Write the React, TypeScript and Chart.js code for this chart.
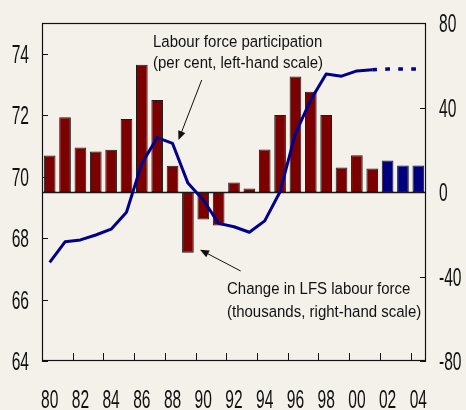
import React, { useEffect, useRef } from 'react';
import { Chart, registerables } from 'chart.js';

Chart.register(...registerables);

// ---- data ----
const years = ['80','81','82','83','84','85','86','87','88','89','90','91','92','93','94','95','96','97','98','99','00','01','02','03','04'];
// Change in LFS labour force (thousands, right-hand scale)
const lfsChange = [17.3, 35.4, 21.1, 19.2, 20.0, 34.6, 60.2, 43.6, 12.4, -28.8, -13.0, -15.9, 4.5, 1.7, 20.1, 36.4, 54.7, 47.4, 36.4, 11.6, 17.4, 11.1, 14.9, 12.5, 12.5];
// number of actual (non-projected) years
const actualYears = 22;
// Labour force participation (per cent, left-hand scale)
const participation = [67.21, 67.88, 67.94, 68.10, 68.29, 68.84, 70.43, 71.27, 71.08, 69.79, 69.24, 68.48, 68.37, 68.19, 68.56, 69.51, 71.41, 72.50, 73.34, 73.27, 73.44, 73.48, null, null, null];
const participationProjection = [null, null, null, null, null, null, null, null, null, null, null, null, null, null, null, null, null, null, null, null, null, 73.48, 73.50, 73.50, 73.50];
const leftTicks = [64, 66, 68, 70, 72, 74];
const rightTicks = [-80, -40, 0, 40, 80];
const xLabelEvery = 2;

const BG = '#f3f1ea';
const MAROON = '#7d0000';
const NAVY = '#00007f';
const LINE = '#00008b';
const INK = '#111111';

function drawCondensed(ctx: CanvasRenderingContext2D, text: string, x: number, cy: number, align: CanvasTextAlign) {
  const size = 26;
  ctx.save();
  ctx.translate(x, cy + size * 0.358);
  ctx.scale(0.6, 1);
  ctx.font = `${size}px "Liberation Sans", Arial, sans-serif`;
  ctx.fillStyle = INK;
  ctx.textAlign = align;
  ctx.textBaseline = 'alphabetic';
  ctx.fillText(text, 0, 0);
  ctx.restore();
}

function drawText(ctx: CanvasRenderingContext2D, text: string, x: number, baseline: number) {
  ctx.save();
  ctx.translate(x, baseline);
  ctx.scale(1, 1.1);
  ctx.font = '15px "Liberation Sans", Arial, sans-serif';
  ctx.fillStyle = INK;
  ctx.textAlign = 'left';
  ctx.textBaseline = 'alphabetic';
  ctx.fillText(text, 0, 0);
  ctx.restore();
}

function drawArrow(ctx: CanvasRenderingContext2D, x1: number, y1: number, x2: number, y2: number) {
  const ang = Math.atan2(y2 - y1, x2 - x1);
  const len = 9, hw = 3.8;
  ctx.save();
  ctx.strokeStyle = INK;
  ctx.fillStyle = INK;
  ctx.lineWidth = 1;
  ctx.beginPath();
  ctx.moveTo(x1, y1);
  ctx.lineTo(x2 - Math.cos(ang) * len * 0.8, y2 - Math.sin(ang) * len * 0.8);
  ctx.stroke();
  ctx.beginPath();
  ctx.moveTo(x2, y2);
  ctx.lineTo(x2 - Math.cos(ang) * len - Math.sin(ang) * hw, y2 - Math.sin(ang) * len + Math.cos(ang) * hw);
  ctx.lineTo(x2 - Math.cos(ang) * len + Math.sin(ang) * hw, y2 - Math.sin(ang) * len - Math.cos(ang) * hw);
  ctx.closePath();
  ctx.fill();
  ctx.restore();
}

const decorPlugin = {
  id: 'decor',
  afterDatasetDraw(chart: any, args: any) {
    if (args.index !== 2) return;
    const { ctx, chartArea } = chart;
    const y0 = Math.round(chart.scales.yR.getPixelForValue(0)) + 0.5;
    ctx.save();
    ctx.strokeStyle = '#1a1a1a';
    ctx.lineWidth = 1.3;
    ctx.beginPath();
    ctx.moveTo(chartArea.left, y0);
    ctx.lineTo(chartArea.right, y0);
    ctx.stroke();
    ctx.restore();
  },
  afterDraw(chart: any) {
    const { ctx, chartArea } = chart;
    const { left, right, top, bottom } = chartArea;
    const x = chart.scales.x;
    const yL = chart.scales.yL;
    const yR = chart.scales.yR;
    ctx.save();
    ctx.strokeStyle = INK;
    ctx.lineWidth = 1.2;
    ctx.strokeRect(left + 0.5, top + 0.5, right - left - 1, bottom - top - 1);
    ctx.lineWidth = 1;
    ctx.beginPath();
    leftTicks.forEach((v) => {
      const y = Math.round(yL.getPixelForValue(v)) + 0.5;
      ctx.moveTo(left, y);
      ctx.lineTo(left + 6, y);
    });
    rightTicks.forEach((v) => {
      const y = Math.round(yR.getPixelForValue(v)) + 0.5;
      ctx.moveTo(right, y);
      ctx.lineTo(right - 6, y);
    });
    for (let i = xLabelEvery; i < years.length; i += xLabelEvery) {
      const xp = Math.round((x.getPixelForValue(i - 1) + x.getPixelForValue(i)) / 2) + 0.5;
      ctx.moveTo(xp, bottom);
      ctx.lineTo(xp, bottom - 8);
    }
    ctx.stroke();
    ctx.restore();

    leftTicks.forEach((v) => drawCondensed(ctx, String(v), 29, yL.getPixelForValue(v), 'right'));
    rightTicks.forEach((v) => drawCondensed(ctx, String(v), 439, yR.getPixelForValue(v), 'left'));
    years.forEach((lab, i) => {
      if (i % xLabelEvery === 0) drawCondensed(ctx, lab, x.getPixelForValue(i), 399, 'center');
    });

    drawText(ctx, 'Labour force participation', 153, 46.5);
    drawText(ctx, '(per cent, left-hand scale)', 153, 68);
    drawArrow(ctx, 201.7, 80, 178.5, 140);

    drawText(ctx, 'Change in LFS labour force', 227, 294);
    drawText(ctx, '(thousands, right-hand scale)', 227, 316.5);
    drawArrow(ctx, 240.7, 271, 200, 249.7);
  },
};

export default function App() {
  const ref = useRef<HTMLCanvasElement | null>(null);
  useEffect(() => {
    if (!ref.current) return;
    const chart = new Chart(ref.current, {
      type: 'bar',
      data: {
        labels: years,
        datasets: [
          {
            type: 'line',
            data: participation as any,
            yAxisID: 'yL',
            borderColor: LINE,
            borderWidth: 3,
            pointRadius: 0,
            tension: 0,
            spanGaps: false,
            borderCapStyle: 'butt',
            borderJoinStyle: 'round',
            order: 1,
          } as any,
          {
            type: 'line',
            data: participationProjection as any,
            yAxisID: 'yL',
            borderColor: LINE,
            borderWidth: 3.5,
            borderDash: [4.7, 8.3],
            pointRadius: 0,
            tension: 0,
            borderCapStyle: 'butt',
            order: 1,
          } as any,
          {
            type: 'bar',
            data: lfsChange,
            yAxisID: 'yR',
            backgroundColor: lfsChange.map((_, i) => (i < actualYears ? MAROON : NAVY)),
            borderColor: '#1c1c1c',
            borderWidth: 1,
            borderSkipped: false,
            barPercentage: 0.76,
            categoryPercentage: 1,
            order: 2,
          } as any,
        ],
      },
      options: {
        responsive: false,
        animation: false,
        devicePixelRatio: 1,
        layout: { padding: { top: 23, left: 0, right: 0, bottom: 0 } },
        plugins: { legend: { display: false }, tooltip: { enabled: false }, title: { display: false } },
        scales: {
          x: {
            type: 'category',
            offset: true,
            grid: { display: false },
            border: { display: false },
            ticks: { display: false },
            afterFit: (s: any) => { s.height = 49; },
          },
          yL: {
            type: 'linear',
            position: 'left',
            min: 64,
            max: 75,
            grid: { display: false },
            border: { display: false },
            ticks: { display: false, stepSize: 2 },
            afterFit: (s: any) => { s.width = 42; },
          },
          yR: {
            type: 'linear',
            position: 'right',
            min: -80,
            max: 80,
            grid: { display: false },
            border: { display: false },
            ticks: { display: false, stepSize: 40 },
            afterFit: (s: any) => { s.width = 40; },
          },
        },
      } as any,
      plugins: [decorPlugin],
    });
    return () => chart.destroy();
  }, []);
  return (
    <div style={{ position: 'fixed', left: 0, top: 0, width: 466, height: 410, background: BG }}>
      <canvas ref={ref} width={466} height={410} style={{ display: 'block' }} />
    </div>
  );
}
